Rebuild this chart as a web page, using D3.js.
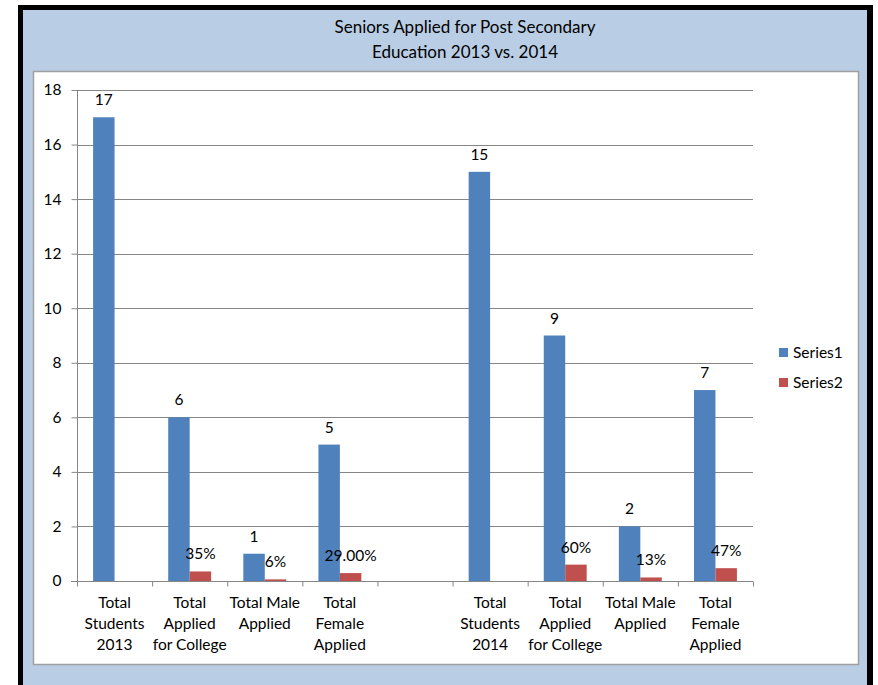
<!DOCTYPE html>
<html>
<head>
<meta charset="utf-8">
<script src="https://cdn.jsdelivr.net/npm/d3@7"></script>
<style>
  html, body { margin: 0; padding: 0; background: #fff; }
  svg { display: block; }
  text { font-family: Lato, "Open Sans", sans-serif; fill: #000; }
</style>
</head>
<body>
<svg id="chart" width="878" height="685"></svg>
<script>
const titleLines = ["Seniors Applied for Post Secondary", "Education 2013 vs. 2014"];
const categories = [
  ["Total", "Students", "2013"],
  ["Total", "Applied", "for College"],
  ["Total Male", "Applied"],
  ["Total", "Female", "Applied"],
  [""],
  ["Total", "Students", "2014"],
  ["Total", "Applied", "for College"],
  ["Total Male", "Applied"],
  ["Total", "Female", "Applied"]
];
const seriesNames = ["Series1", "Series2"];
const series1 = [17, 6, 1, 5, null, 15, 9, 2, 7];
const series1Labels = ["17", "6", "1", "5", "", "15", "9", "2", "7"];
const series2 = [null, 0.35, 0.06, 0.29, null, null, 0.60, 0.13, 0.47];
const series2Labels = ["", "35%", "6%", "29.00%", "", "", "60%", "13%", "47%"];
const yTicks = [0, 2, 4, 6, 8, 10, 12, 14, 16, 18];
const colors = ["#4F81BD", "#C0504D"];

const svg = d3.select("#chart");
const W = 878, H = 685;
const FS = "15.5px";

// frame
svg.append("rect").attr("x", 18).attr("y", 5).attr("width", 855).attr("height", H).attr("fill", "#000");
svg.append("rect").attr("x", 23).attr("y", 10).attr("width", 844).attr("height", H).attr("fill", "#B9CDE5");
svg.append("rect").attr("x", 33.5).attr("y", 71.5).attr("width", 825).attr("height", 593)
  .attr("fill", "#fff").attr("stroke", "#A0A0A0").attr("stroke-width", 1.5);

// title
svg.append("g").selectAll("text").data(titleLines).join("text")
  .attr("x", 465).attr("y", (d, i) => 33 + i * 25)
  .attr("text-anchor", "middle").style("font-size", "17px").text(d => d);

const plot = { left: 77, right: 753, top: 90, bottom: 581 };
const x = d3.scaleBand().domain(d3.range(categories.length)).range([plot.left, plot.right]).paddingInner(0).paddingOuter(0);
const xs = d3.scaleBand().domain([0, 1]).range([0, x.bandwidth()]).paddingInner(0).paddingOuter(0.75);
const y = d3.scaleLinear().domain([0, 18]).range([plot.bottom, plot.top]);
const xb = d3.scaleLinear().domain([0, categories.length]).range([plot.left, plot.right]);

// gridlines
svg.append("g").selectAll("line").data(yTicks.filter(d => d > 0)).join("line")
  .attr("x1", plot.left).attr("x2", plot.right)
  .attr("y1", d => Math.round(y(d)) + 0.5).attr("y2", d => Math.round(y(d)) + 0.5)
  .attr("stroke", "#868686").attr("stroke-width", 1);

// y axis
const yAxis = svg.append("g").attr("transform", `translate(${plot.left + 0.5},0)`)
  .call(d3.axisLeft(y).tickValues(yTicks).tickSize(6).tickPadding(10).tickFormat(d3.format("d")));
yAxis.select(".domain").attr("stroke", "#868686").attr("d", `M0,${plot.top}V${plot.bottom}`);
yAxis.selectAll(".tick line").attr("stroke", "#868686");
yAxis.selectAll(".tick text").style("font-size", FS).style("font-family", "Lato, sans-serif").attr("fill", "#000");

// bars
const bars = svg.append("g");
[series1, series2].forEach((s, si) => {
  bars.append("g").selectAll("rect").data(s.map((v, i) => ({ v, i })).filter(d => d.v != null)).join("rect")
    .attr("x", d => x(d.i) + xs(si))
    .attr("width", xs.bandwidth())
    .attr("y", d => y(d.v))
    .attr("height", d => y(0) - y(d.v))
    .attr("fill", colors[si]);
});

// x axis
const xAxis = svg.append("g").attr("transform", `translate(0,${Math.round(plot.bottom) + 0.5})`)
  .call(d3.axisBottom(xb).tickValues(d3.range(categories.length + 1)).tickSize(5).tickFormat(""));
xAxis.select(".domain").attr("stroke", "#868686").attr("d", `M${plot.left - 6},0H${plot.right}`);
xAxis.selectAll(".tick line").attr("stroke", "#868686");

// category labels
const catG = svg.append("g");
categories.forEach((lines, i) => {
  catG.append("g").selectAll("text").data(lines).join("text")
    .attr("x", x(i) + x.bandwidth() / 2)
    .attr("y", (d, j) => 608 + j * 21)
    .attr("text-anchor", "middle").style("font-size", FS).text(d => d);
});

// data labels
const labG = svg.append("g");
[[series1, series1Labels], [series2, series2Labels]].forEach(([s, labs], si) => {
  labG.append("g").selectAll("text").data(s.map((v, i) => ({ v, i, t: labs[i] })).filter(d => d.v != null && d.t)).join("text")
    .attr("x", d => x(d.i) + xs(si) + xs.bandwidth() / 2)
    .attr("y", d => y(d.v) - 12)
    .attr("text-anchor", "middle").style("font-size", FS).text(d => d.t);
});

// legend
const leg = svg.append("g").selectAll("g").data(seriesNames).join("g")
  .attr("transform", (d, i) => `translate(779,${348 + i * 30})`);
leg.append("rect").attr("width", 9).attr("height", 9).attr("fill", (d, i) => colors[i]);
leg.append("text").attr("x", 14).attr("y", 10).style("font-size", FS).text(d => d);
</script>
</body>
</html>
